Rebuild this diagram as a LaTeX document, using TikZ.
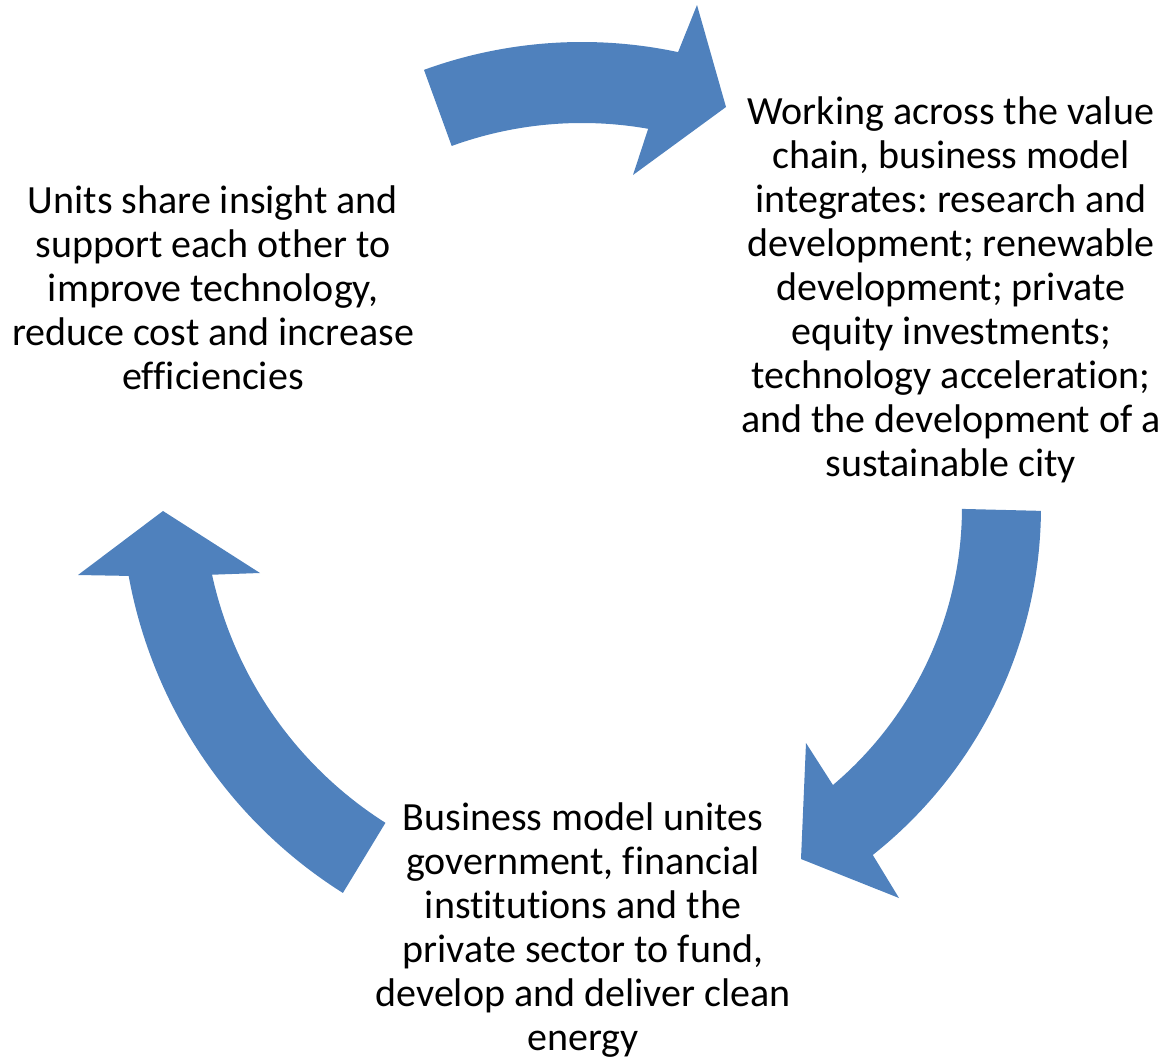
\documentclass[tikz,border=0pt]{standalone}
\usepackage{fontspec}
\setmainfont{Carlito}[Ligatures = NoCommon]
\frenchspacing
\definecolor{arrowblue}{RGB}{79,129,189}
\tikzset{
	cycletext/.style = { align = center, inner sep = 0, font = \fontsize{40}{44}\selectfont, anchor = base },
	cyclearrow/.style = { fill = arrowblue }
}
\begin{document}
\begin{tikzpicture}[ x = 1pt, y = -1pt ]
	\useasboundingbox ( 0, 0 ) rectangle ( 1163, 1058 );
	\fill [cyclearrow] ([shift = {( 582, 504 )}] -110:462) arc [start angle = -110, end angle = -78, radius = 462] -- ( 697, 5 ) -- ( 726, 107 ) -- ( 633, 175 ) -- ([shift = {( 582, 504 )}] -80:381) arc [start angle = -80, end angle = -110, radius = 381] -- cycle;
	\fill [cyclearrow] ([shift = {( 598, 507 )}] 0.5:443) arc [start angle = 0.5, end angle = 51.6, radius = 444] -- ( 899, 898 ) -- ( 801, 859 ) -- ( 806, 743 ) -- ([shift = {( 598, 507 )}] 49.8:364) arc [start angle = 49.8, end angle = 0.3, radius = 364] -- cycle;
	\fill [cyclearrow] ([shift = {( 596, 491 )}] 122.2:475) arc [start angle = 122.2, end angle = 169.7, radius = 475] -- ( 78, 575 ) -- ( 163, 511 ) -- ( 260, 573 ) -- ([shift = {( 596, 491 )}] 167.7:393) arc [start angle = 167.7, end angle = 122.4, radius = 393] -- cycle;
	\node [cycletext] (valuechain) at ( 951, 476 ) {Working across the value\\chain, business model\\integrates: research and\\development; renewable\\development; private\\equity investments;\\technology acceleration;\\and the development of a\\sustainable city};
	\node [cycletext] (unites) at ( 583, 1050 ) {Business model unites\\government, financial\\institutions and the\\private sector to fund,\\develop and deliver clean\\energy};
	\node [cycletext] (insight) at ( 213, 389 ) {Units share insight and\\support each other to\\improve technology,\\reduce cost and increase\\efficiencies};
\end{tikzpicture}
\end{document}
